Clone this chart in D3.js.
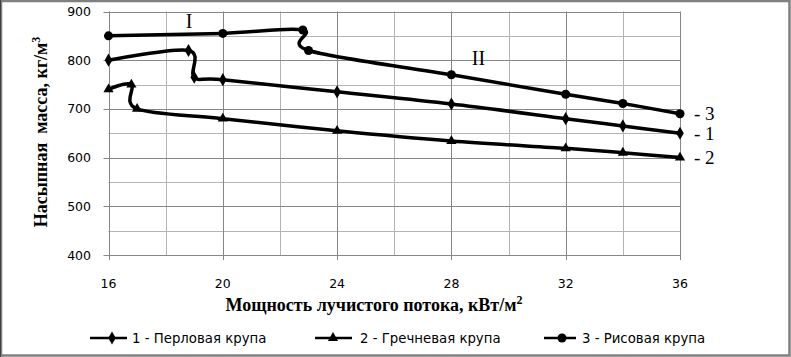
<!DOCTYPE html>
<html><head><meta charset="utf-8">
<script src="https://cdn.jsdelivr.net/npm/d3@7"></script>
<style>body{margin:0;background:#fff}svg{display:block}</style>
</head><body>
<svg id="c" width="791" height="357"></svg>
<script>
// Data
const xTicks = [16, 20, 24, 28, 32, 36];
const yTicks = [400, 500, 600, 700, 800, 900];
const s1x = [16, 18.8, 19.0, 20, 24, 28, 32, 34, 36];
const s1y = [800, 820, 765, 760, 735, 710, 680, 665, 650];
const s2x = [16, 16.8, 17.0, 20, 24, 28, 32, 34, 36];
const s2y = [740, 750, 700, 680, 655, 634, 619, 610, 600];
const s3x = [16, 20, 22.8, 23.0, 28, 32, 34, 36];
const s3y = [850, 855, 862, 820, 770, 730, 711, 690];
const seriesNames = ["1 - Перловая крупа", "2 - Гречневая крупа", "3 - Рисовая крупа"];
const endLabels = ["- 3", "- 1", "- 2"];

const svg = d3.select("#c");
const L = 108.5, R = 680, T = 11.5, B = 255;
const x = d3.scaleLinear().domain([16, 36]).range([L, R]);
const y = d3.scaleLinear().domain([400, 900]).range([B, T]);

// border
svg.append("rect").attr("x", 1).attr("y", 1).attr("width", 788.5).attr("height", 354.5)
  .attr("fill", "#fff").attr("stroke", "#808080").attr("stroke-width", 2.5);
svg.append("line").attr("x1", 0.5).attr("x2", 0.5).attr("y1", 0).attr("y2", 357).attr("stroke", "#404040");

// minor grid
const g = svg.append("g");
d3.range(18, 36, 4).forEach(v => g.append("line").attr("x1", Math.round(x(v)) + 0.5).attr("x2", Math.round(x(v)) + 0.5)
  .attr("y1", T).attr("y2", B).attr("stroke", "#b4b4b4").attr("stroke-width", 1));
d3.range(450, 900, 100).forEach(v => g.append("line").attr("y1", Math.round(y(v)) + 0.5).attr("y2", Math.round(y(v)) + 0.5)
  .attr("x1", L).attr("x2", R).attr("stroke", "#b4b4b4").attr("stroke-width", 1));
// major grid
xTicks.forEach(v => g.append("line").attr("x1", Math.round(x(v)) + 0.5).attr("x2", Math.round(x(v)) + 0.5)
  .attr("y1", T).attr("y2", B + 5).attr("stroke", "#868686").attr("stroke-width", 1));
yTicks.forEach(v => g.append("line").attr("y1", Math.round(y(v)) + 0.5).attr("y2", Math.round(y(v)) + 0.5)
  .attr("x1", L - 5).attr("x2", R).attr("stroke", "#868686").attr("stroke-width", 1));

// tick labels
const tickFont = "'DejaVu Sans', sans-serif";
yTicks.forEach(v => svg.append("text").attr("x", 91).attr("y", y(v) + 4.5).attr("text-anchor", "end")
  .attr("font-family", tickFont).attr("font-size", 12.5).attr("fill", "#000").text(v));
xTicks.forEach(v => svg.append("text").attr("x", x(v)).attr("y", 288).attr("text-anchor", "middle")
  .attr("font-family", tickFont).attr("font-size", 12.5).attr("fill", "#000").text(v));

// axis titles
const serif = "'Liberation Serif', 'Times New Roman', serif";
const xt = svg.append("text").attr("x", 374).attr("y", 311).attr("text-anchor", "middle")
  .attr("font-family", serif).attr("font-weight", "bold").attr("font-size", 18);
xt.append("tspan").text("Мощность лучистого потока, кВт/м");
xt.append("tspan").attr("dy", -7).attr("font-size", 12).text("2");
const yt = svg.append("text").attr("transform", "translate(47,132) rotate(-90)").attr("text-anchor", "middle")
  .attr("font-family", serif).attr("font-weight", "bold").attr("font-size", 18).attr("xml:space", "preserve");
yt.append("tspan").text("Насыпная  масса, кг/м");
yt.append("tspan").attr("dy", -7).attr("font-size", 12).text("3");

// series
const line = d3.line().x(d => x(d[0])).y(d => y(d[1])).curve(d3.curveCardinal.tension(0));
const data = [
  { xs: s1x, ys: s1y, m: d3.symbolDiamond, size: 50 },
  { xs: s2x, ys: s2y, m: d3.symbolTriangle, size: 45 },
  { xs: s3x, ys: s3y, m: d3.symbolCircle, size: 64 }
];
data.forEach(s => {
  const pts = s.xs.map((v, i) => [v, s.ys[i]]);
  svg.append("path").attr("d", line(pts)).attr("fill", "none").attr("stroke", "#000")
    .attr("stroke-width", 3.5).attr("stroke-linejoin", "round");
  pts.forEach(p => svg.append("path").attr("d", d3.symbol(s.m, s.size)())
    .attr("transform", `translate(${x(p[0])},${y(p[1])})`).attr("fill", "#000"));
});

// annotations
svg.append("text").attr("x", 189).attr("y", 28).attr("text-anchor", "middle").attr("font-family", serif)
  .attr("font-size", 20).text("I");
svg.append("text").attr("x", 478.5).attr("y", 65).attr("text-anchor", "middle").attr("font-family", serif)
  .attr("font-size", 20).text("II");
const endVals = [s3y[s3y.length - 1], s1y[s1y.length - 1], s2y[s2y.length - 1]];
endVals.forEach((v, i) => svg.append("text").attr("x", 694).attr("y", y(v) + 6.5)
  .attr("font-family", serif).attr("font-size", 19).attr("xml:space", "preserve").text(endLabels[i]));

// legend
const legX = [{ l1: 90, l2: 127, m: 112, t: 132 }, { l1: 315, l2: 352, m: 333, t: 360 }, { l1: 544, l2: 576, m: 562, t: 582 }];
legX.forEach((p, i) => {
  svg.append("line").attr("x1", p.l1).attr("x2", p.l2).attr("y1", 338).attr("y2", 338).attr("stroke", "#000").attr("stroke-width", 2.5);
  svg.append("path").attr("d", d3.symbol(data[i].m, data[i].size)()).attr("transform", `translate(${p.m},338)`).attr("fill", "#000");
  svg.append("text").attr("x", p.t).attr("y", 342.5).attr("font-family", tickFont).attr("font-size", 13.3)
    .attr("fill", "#000").text(seriesNames[i]);
});
</script>
</body></html>
